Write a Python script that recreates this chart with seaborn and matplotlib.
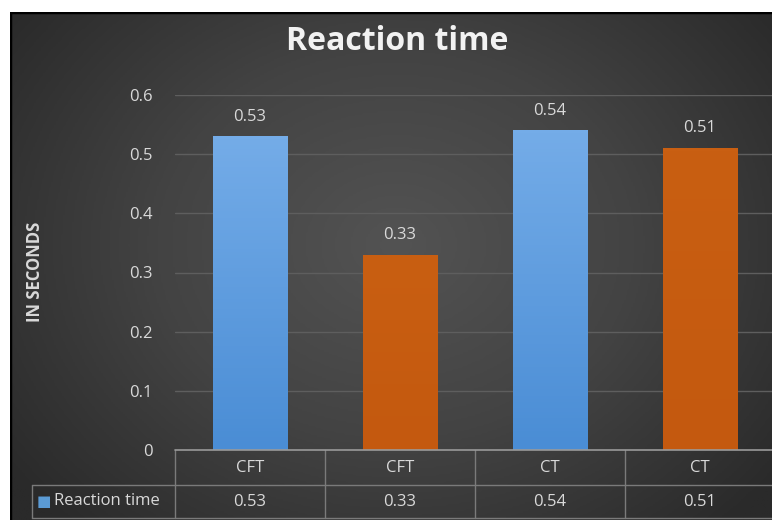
import matplotlib
matplotlib.use("Agg")
import matplotlib.pyplot as plt
import numpy as np
import pandas as pd
import seaborn as sns
from matplotlib.colors import LinearSegmentedColormap
from matplotlib.patches import Rectangle

TITLE = "Reaction time"
Y_LABEL = "IN SECONDS"
SERIES = "Reaction time"
CATEGORIES = ["CFT", "CFT", "CT", "CT"]
VALUES = [0.53, 0.33, 0.54, 0.51]
Y_TICKS = [0, 0.1, 0.2, 0.3, 0.4, 0.5, 0.6]

BLUE_TOP, BLUE_BOT = "#74ace8", "#4a8dd5"
ORANGE_TOP, ORANGE_BOT = "#c95f12", "#c4590f"
BAR_COLORS = [(BLUE_TOP, BLUE_BOT), (ORANGE_TOP, ORANGE_BOT),
              (BLUE_TOP, BLUE_BOT), (ORANGE_TOP, ORANGE_BOT)]
TXT = "#d9d9d9"
LINE = "#7a7a7a"

W, H = 772, 520

sns.set_theme(style="dark")
plt.rcParams["font.family"] = ["Open Sans", "DejaVu Sans"]

fig = plt.figure(figsize=(W / 100, H / 100), dpi=100)
fig.patch.set_facecolor("white")

# dark frame with radial gradient background; right/bottom edges run off the image
bg = fig.add_axes([10 / W, -0.02, 1.0, 1 - 12 / H + 0.02])
bg.set_axis_off()
yy, xx = np.mgrid[0:1:300j, 0:1:450j]
r = np.sqrt(((xx - 0.5) / 0.62) ** 2 + ((yy - 0.45) / 0.75) ** 2)
bg_cmap = LinearSegmentedColormap.from_list("bg", ["#535353", "#434343", "#2a2a2a"])
bg.imshow(np.clip(r, 0, 1), cmap=bg_cmap, aspect="auto", extent=[0, 1, 0, 1],
          vmin=0, vmax=1)
bg.add_patch(Rectangle((0, 0), 1, 1, transform=bg.transAxes, fill=False,
                       edgecolor="black", linewidth=2.5))
bg.set_xlim(0, 1)
bg.set_ylim(0, 1)

ax = fig.add_axes([175 / W, 1 - 450 / H, 600 / W, 355 / H])
ax.patch.set_alpha(0)

df = pd.DataFrame({"slot": [f"{c}_{i}" for i, c in enumerate(CATEGORIES)],
                   "value": VALUES})
sns.barplot(data=df, x="slot", y="value", hue="slot", legend=False,
            palette=[c[1] for c in BAR_COLORS], width=0.5, ax=ax, zorder=3,
            edgecolor="none", linewidth=0)

ax.set_xlim(-0.5, len(VALUES) - 0.5)
ax.set_ylim(0, 0.6)
ax.set_yticks(Y_TICKS)
ax.set_yticklabels([f"{t:g}" for t in Y_TICKS], color=TXT, fontsize=12)
ax.tick_params(axis="y", length=0, pad=16)
ax.set_xticks([])
ax.set_xlabel("")
ax.set_ylabel("")
for s in ax.spines.values():
    s.set_visible(False)
for t in Y_TICKS[1:]:
    ax.axhline(t, color="#5e5e5e", linewidth=1, zorder=1)

# vertical gradient on bars + value labels
for patch, (top, bot), v in zip(ax.patches, BAR_COLORS, VALUES):
    x0, y0 = patch.get_x(), patch.get_y()
    w, h = patch.get_width(), patch.get_height()
    grad = LinearSegmentedColormap.from_list("g", [bot, top])
    im = ax.imshow(np.linspace(0, 1, 100).reshape(-1, 1), cmap=grad, origin="lower",
                   extent=[x0, x0 + w, y0, y0 + h], aspect="auto", zorder=4)
    im.set_clip_path(patch)
    ax.text(x0 + w / 2, v + 0.02, f"{v:.2f}", ha="center", va="bottom",
            color=TXT, fontsize=12)
ax.set_xlim(-0.5, len(VALUES) - 0.5)
ax.set_ylim(0, 0.6)

# data table under the axis (x in data units, y in axes units)
to_ax = ax.get_xaxis_transform()
hdr = -35 / 355
row = -68 / 355
left = -0.5 - (175 - 32) * len(VALUES) / 600
right = len(VALUES)
kw = dict(color=LINE, linewidth=1, clip_on=False)
ax.plot([-0.5, right], [0, 0], transform=to_ax, color="#9a9a9a",
        linewidth=1.2, clip_on=False, zorder=5)
ax.plot([left, right], [hdr, hdr], transform=to_ax, **kw)
ax.plot([left, right], [row, row], transform=to_ax, **kw)
ax.plot([left, left], [hdr, row], transform=to_ax, **kw)
for i in range(len(VALUES)):
    ax.plot([i - 0.5, i - 0.5], [0, row], transform=to_ax, **kw)
for i, (c, v) in enumerate(zip(CATEGORIES, VALUES)):
    ax.text(i, hdr / 2, c, transform=to_ax, ha="center", va="center",
            color=TXT, fontsize=12)
    ax.text(i, (hdr + row) / 2, f"{v:.2f}", transform=to_ax, ha="center",
            va="center", color=TXT, fontsize=12)
fig.text(37 / W, 1 - 501 / H, "■", color="#5b9bd5", fontsize=11,
         ha="left", va="center", family=["DejaVu Sans"])
fig.text(54 / W, 1 - 501 / H, SERIES, color=TXT, fontsize=12,
         ha="left", va="center")

fig.text(397 / W, 1 - 42 / H, TITLE, color="#f2f2f2", fontsize=23,
         fontweight="bold", ha="center", va="center")
fig.text(35 / W, 1 - 272 / H, Y_LABEL, color=TXT, fontsize=12,
         fontweight="bold", rotation=90, ha="center", va="center")

fig.savefig("out.png", dpi=100)
